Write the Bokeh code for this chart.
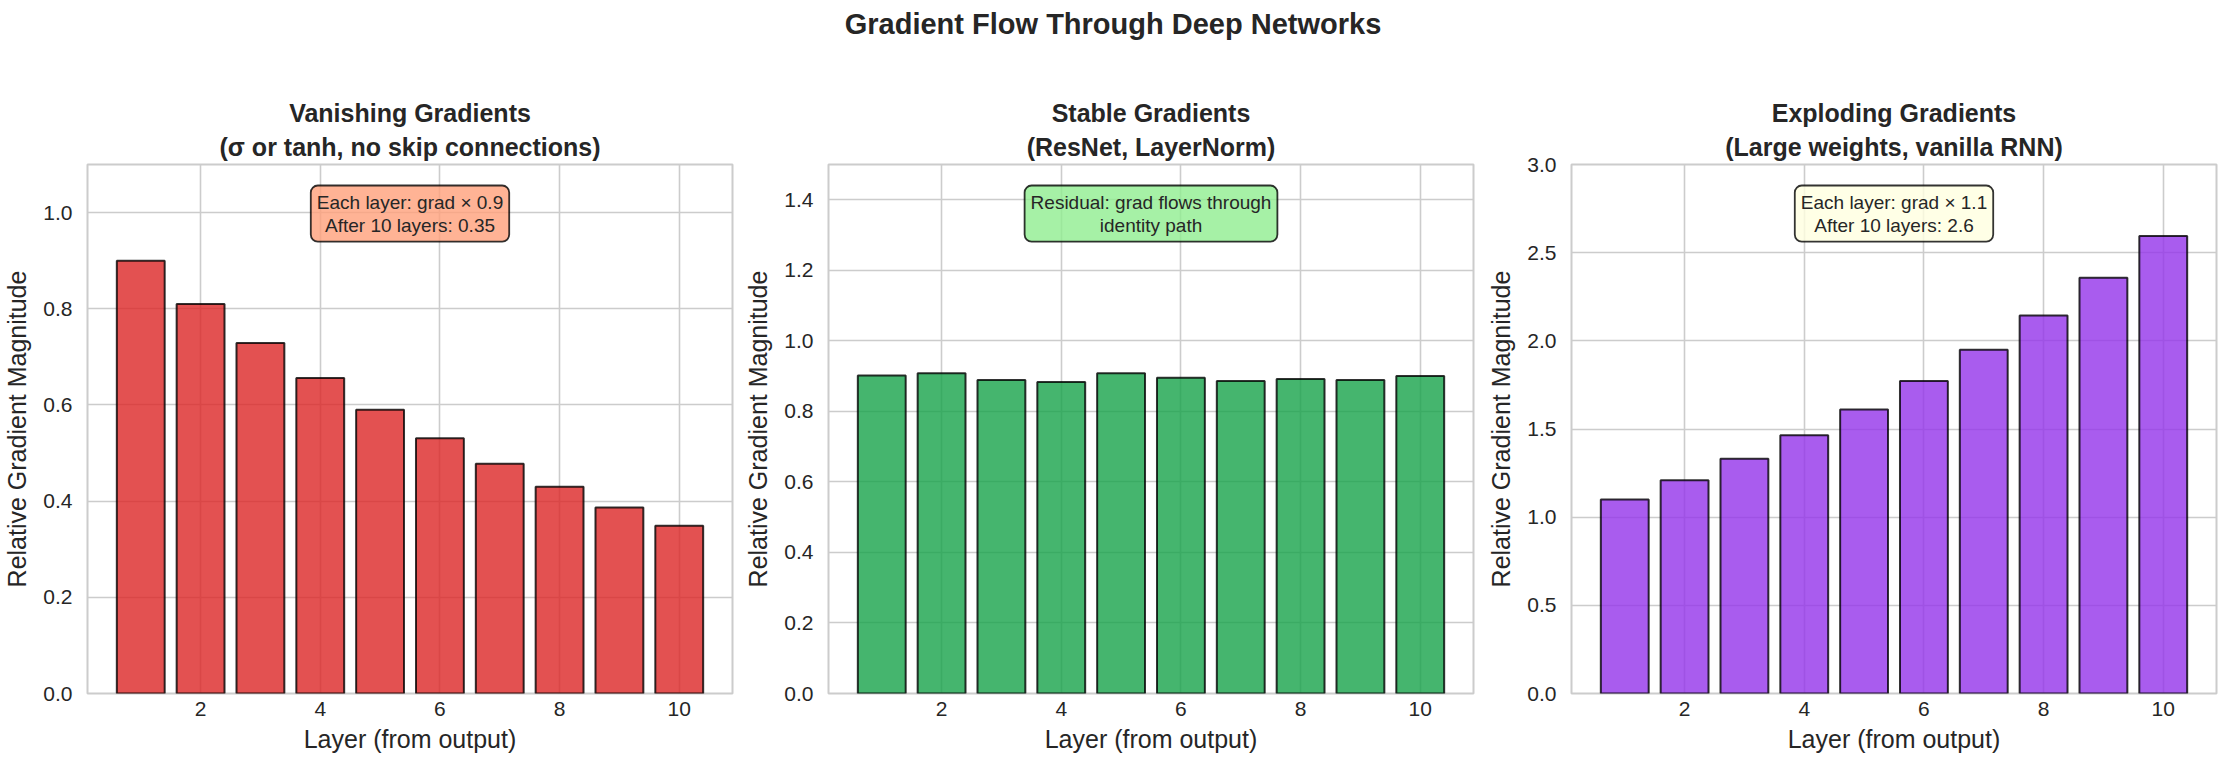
from bokeh.plotting import figure
from bokeh.layouts import column, row
from bokeh.models import Label, FixedTicker, NumeralTickFormatter, Range1d, Title
from bokeh.core.properties import value
from bokeh.embed import file_html
from bokeh.resources import INLINE

# ---- data ----
layers = [1, 2, 3, 4, 5, 6, 7, 8, 9, 10]
vanishing = [0.900, 0.810, 0.729, 0.656, 0.590, 0.531, 0.478, 0.430, 0.387, 0.349]
stable = [0.902, 0.908, 0.889, 0.883, 0.908, 0.895, 0.886, 0.892, 0.889, 0.900]
exploding = [1.100, 1.210, 1.331, 1.464, 1.611, 1.772, 1.949, 2.144, 2.358, 2.594]

x_ticks = [2, 4, 6, 8, 10]
y_ticks_van = [0.0, 0.2, 0.4, 0.6, 0.8, 1.0]
y_ticks_sta = [0.0, 0.2, 0.4, 0.6, 0.8, 1.0, 1.2, 1.4]
y_ticks_exp = [0.0, 0.5, 1.0, 1.5, 2.0, 2.5, 3.0]

suptitle = "Gradient Flow Through Deep Networks"
titles_top = ["Vanishing Gradients", "Stable Gradients", "Exploding Gradients"]
titles_sub = ["(\u03c3 or tanh, no skip connections)", "(ResNet, LayerNorm)",
              "(Large weights, vanilla RNN)"]
notes = ["Each layer: grad \u00d7 0.9\nAfter 10 layers: 0.35",
         "Residual: grad flows through\nidentity path",
         "Each layer: grad \u00d7 1.1\nAfter 10 layers: 2.6"]
x_label = "Layer (from output)"
y_label = "Relative Gradient Magnitude"

FONT = "Liberation Sans"
TXT = "#262626"
GRID = "#cccccc"

specs = [
    dict(vals=vanishing, color="#dc2626", ymax=1.1, yt=y_ticks_van, box="#ffa07a", left=86, right=4),
    dict(vals=stable, color="#16a34a", ymax=1.5, yt=y_ticks_sta, box="#90ee90", left=92, right=2),
    dict(vals=exploding, color="#9333ea", ymax=3.0, yt=y_ticks_exp, box="#ffffe0", left=96, right=10),
]

FW, FH = 645, 529
TOP, BOTTOM = 96, 70


def title_obj(text, standoff):
    return Title(text=text, align="center", text_font=FONT, text_font_size="25px",
                 text_font_style="bold", text_color=TXT, standoff=standoff)


figs = []
for i, s in enumerate(specs):
    p = figure(frame_width=FW, frame_height=FH,
               x_range=Range1d(0.11, 10.89), y_range=Range1d(0, s["ymax"]),
               toolbar_location=None, output_backend="svg", title=None,
               min_border_left=s["left"], min_border_right=s["right"],
               min_border_top=TOP, min_border_bottom=BOTTOM)
    p.add_layout(title_obj(titles_sub[i], 8), "above")
    p.add_layout(title_obj(titles_top[i], 0), "above")
    p.background_fill_color = "white"
    p.border_fill_color = "white"
    p.outline_line_color = GRID
    p.outline_line_width = 2

    p.vbar(x=layers, top=s["vals"], width=0.8, bottom=0,
           fill_color=s["color"], fill_alpha=0.8,
           line_color="black", line_alpha=0.8, line_width=2)

    p.xaxis.ticker = FixedTicker(ticks=x_ticks)
    p.yaxis.ticker = FixedTicker(ticks=s["yt"])
    p.yaxis.formatter = NumeralTickFormatter(format="0.0")
    for ax in (p.xaxis[0], p.yaxis[0]):
        ax.axis_line_color = None
        ax.major_tick_line_color = None
        ax.minor_tick_line_color = None
        ax.major_label_text_font = FONT
        ax.major_label_text_font_size = "21px"
        ax.major_label_text_color = TXT
        ax.axis_label_text_font = FONT
        ax.axis_label_text_font_size = "25px"
        ax.axis_label_text_font_style = "normal"
        ax.axis_label_text_color = TXT
    p.xaxis.axis_label = x_label
    p.yaxis.axis_label = y_label
    p.xaxis.major_label_standoff = 2
    p.xaxis.axis_label_standoff = 6
    p.yaxis.major_label_standoff = 9
    p.yaxis.axis_label_standoff = 9

    p.xgrid.grid_line_color = GRID
    p.ygrid.grid_line_color = GRID
    p.xgrid.grid_line_width = 1.6
    p.ygrid.grid_line_width = 1.6

    lab = Label(x=5.5, y=s["ymax"] * (1 - 21.0 / FH), x_units="data", y_units="data",
                text=notes[i], text_align="center", text_baseline="top",
                text_font=FONT, text_font_size="19px", text_color=TXT,
                text_line_height=1.1,
                padding=6, border_radius=7,
                background_fill_color=s["box"], background_fill_alpha=0.8,
                border_line_color="black", border_line_alpha=0.8, border_line_width=1.8)
    p.add_layout(lab)
    figs.append(p)

tf = figure(width=2225, height=68, x_range=Range1d(0, 1), y_range=Range1d(0, 1),
            toolbar_location=None, output_backend="svg",
            x_axis_location=None, y_axis_location=None, min_border=0)
tf.outline_line_color = None
tf.grid.visible = False
tf.background_fill_color = "white"
tf.border_fill_color = "white"
tf.text(x=[0.5], y=[0.652], text=[suptitle], text_align="center", text_baseline="middle",
        text_font=value(FONT), text_font_style="bold", text_font_size="29px", text_color=TXT)

layout = column(tf, row(*figs, spacing=0), spacing=0)
open("out.html", "w").write(file_html(layout, INLINE))
